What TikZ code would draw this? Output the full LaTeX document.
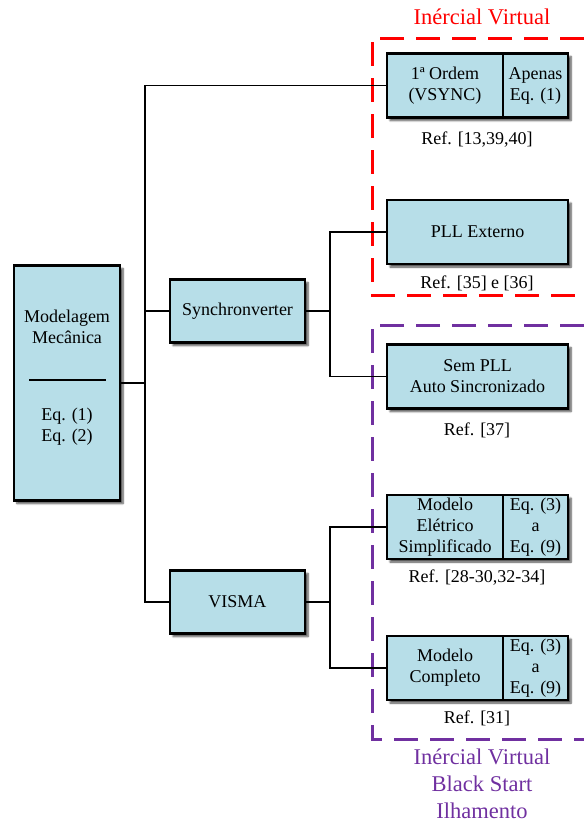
\documentclass[tikz,border=0pt]{standalone}
\usepackage{fontspec}
\setmainfont{Liberation Serif}
\usetikzlibrary{shadows.blur}
\definecolor{boxblue}{HTML}{B7DEE8}
\definecolor{vred}{HTML}{FF0000}
\definecolor{vpurple}{HTML}{7030A0}
\tikzset{
  blockbox/.style={draw=black, line width=2.4pt, fill=boxblue, minimum width=181pt, minimum height=64pt, inner sep=0pt,
    blur shadow={shadow xshift=3pt, shadow yshift=-3pt, shadow blur steps=6, shadow opacity=70}},
  midbox/.style={blockbox, minimum width=135pt, minimum height=63pt},
  txt/.style={align=center, font=\fontsize{18}{21}\selectfont, inner sep=0pt},
  reftxt/.style={txt},
  conn/.style={line width=1.8pt, black},
  redzone/.style={vred, line width=3pt, dash pattern=on 24pt off 12pt},
  purplezone/.style={vpurple, line width=3pt, dash pattern=on 24pt off 12pt},
  zonetitle/.style={align=center, font=\fontsize{22.5}{27}\selectfont, inner sep=0pt}
}
\begin{document}
\begin{tikzpicture}[x=1pt,y=-1pt]
\useasboundingbox (0,0) rectangle (584,823);

% zones
\draw[redzone] (584,38) -- (372,38) -- (372,295) -- (584,295);
\node[zonetitle, text=vred] (redtitle) at (482,17) {Inércial Virtual};
\draw[purplezone] (584,325) -- (372,325) -- (372,739) -- (584,739);
\node[zonetitle, text=vpurple] (purpletitle) at (482,784) {Inércial Virtual\\Black Start\\Ilhamento};

% main box
\node[blockbox, minimum width=106pt, minimum height=235pt] (main) at (67,383) {};
\node[txt] (maintop) at (67,327) {Modelagem\\Mecânica};
\draw[line width=1.8pt] (29,380) -- (106,380);
\node[txt] (mainbot) at (67,427) {Eq. (1)\\Eq. (2)};

% middle boxes
\node[midbox] (sync) at (237.5,311) {};
\node[txt] (synctxt) at (sync) {Synchronverter};
\node[midbox] (visma) at (237.5,602) {};
\node[txt] (vismatxt) at (visma) {VISMA};

% right boxes
\node[blockbox] (ordem) at (477.5,85.5) {};
\draw[line width=1.8pt] (503,53.5) -- (503,117.5);
\node[txt] (ordemL) at (445,85.5) {1ª Ordem\\(VSYNC)};
\node[txt] (ordemR) at (535.5,85.5) {Apenas\\Eq. (1)};
\node[reftxt] (ordemref) at (477,140) {Ref. [13,39,40]};

\node[blockbox] (pll) at (477.5,232) {};
\node[txt] (plltxt) at (pll) {PLL Externo};
\node[reftxt] (pllref) at (477,283) {Ref. [35] e [36]};

\node[blockbox] (sempll) at (477.5,376.5) {};
\node[txt] (sempllt) at (sempll) {Sem PLL\\Auto Sincronizado};
\node[reftxt] (sempllref) at (477,430) {Ref. [37]};

\node[blockbox] (elet) at (477.5,527) {};
\draw[line width=1.8pt] (503,495) -- (503,559);
\node[txt] (eletL) at (445,527) {Modelo\\Elétrico\\Simplificado};
\node[txt] (eletR) at (535.5,527) {Eq. (3)\\a\\Eq. (9)};
\node[reftxt] (eletref) at (477,578) {Ref. [28-30,32-34]};

\node[blockbox] (comp) at (477.5,668) {};
\draw[line width=1.8pt] (503,636) -- (503,700);
\node[txt] (compL) at (445,668) {Modelo\\Completo};
\node[txt] (compR) at (535.5,668) {Eq. (3)\\a\\Eq. (9)};
\node[reftxt] (compref) at (477,718) {Ref. [31]};

% connectors
\coordinate (t) at (145,383);
\coordinate (s) at (330,311);
\coordinate (v) at (330,602);
\draw[conn] (main.east) -- (t);
\draw[conn] (ordem.west) -| (t);
\draw[conn] (sync.west) -| (t);
\draw[conn] (visma.west) -| (t);
\draw[conn] (sync.east) -- (s);
\draw[conn] (pll.west) -| (s);
\draw[conn] (sempll.west) -| (s);
\draw[conn] (visma.east) -- (v);
\draw[conn] (elet.west) -| (v);
\draw[conn] (comp.west) -| (v);
\end{tikzpicture}
\end{document}
